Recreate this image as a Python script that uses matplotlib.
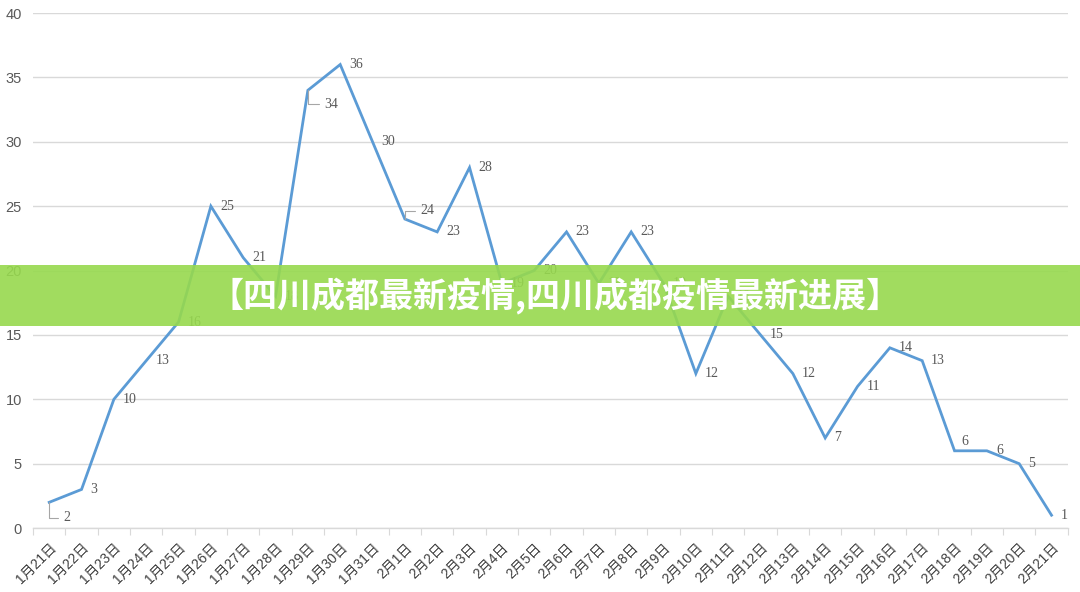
import matplotlib
matplotlib.use('Agg')
import matplotlib.pyplot as plt
from matplotlib.patches import Rectangle
import numpy as np

plt.rcParams['font.family'] = ['Liberation Sans', 'Noto Sans CJK SC', 'DejaVu Sans']

# data
dates = ['1月21日', '1月22日', '1月23日', '1月24日', '1月25日', '1月26日', '1月27日', '1月28日',
         '1月29日', '1月30日', '1月31日', '2月1日', '2月2日', '2月3日', '2月4日', '2月5日',
         '2月6日', '2月7日', '2月8日', '2月9日', '2月10日', '2月11日', '2月12日', '2月13日',
         '2月14日', '2月15日', '2月16日', '2月17日', '2月18日', '2月19日', '2月20日', '2月21日']
cases = [2, 3, 10, 13, 16, 25, 21, 18, 34, 36, 30, 24, 23, 28, 19, 20,
         23, 19, 23, 19, 12, 18, 15, 12, 7, 11, 14, 13, 6, 6, 5, 1]
banner_text = '【四川成都最新疫情,四川成都疫情最新进展】'

LINE = '#5B9BD5'
GRID = '#D9D9D9'
TXT = '#595959'

fig = plt.figure(figsize=(10.8, 5.92), dpi=100)
ax = fig.add_axes([0.0306, 0.108, 0.958, 0.870])

x = np.arange(len(dates))
ax.plot(x, cases, color=LINE, lw=2.0, solid_joinstyle='miter', zorder=3)

ax.set_xlim(-0.5, len(dates) - 0.5)
ax.set_ylim(0, 40)
ax.set_yticks(range(0, 41, 5))
ax.yaxis.grid(True, color=GRID, lw=1.0)
ax.set_axisbelow(True)
for s in ['left', 'right', 'top']:
    ax.spines[s].set_visible(False)
ax.spines['bottom'].set_color(GRID)
ax.spines['bottom'].set_linewidth(1.0)
ax.tick_params(axis='y', length=0, labelsize=10.5, labelcolor=TXT, pad=8)

# ticks between categories, labels at centres
ax.set_xticks(np.arange(-0.5, len(dates), 1.0))
ax.set_xticklabels([])
ax.tick_params(axis='x', which='major', length=5, color=GRID, direction='out')
ax.set_xticks(x, minor=True)
ax.set_xticklabels(dates, minor=True, rotation=45, ha='right', va='top',
                   rotation_mode='anchor', fontsize=10, color='#404040')
ax.tick_params(axis='x', which='minor', length=0, pad=9)

# data labels
special = {0: (10, -11), 8: (12, -10), 11: (11, 6), 28: (5, 7)}
for i, v in enumerate(cases):
    if i in special:
        dx, dy = special[i]
        ax.annotate(str(v), (i, v), xytext=(dx, dy), textcoords='offset points',
                    fontsize=10, color=TXT, family='Liberation Serif',
                    ha='left', va='center',
                    arrowprops=dict(arrowstyle='-', color='#A6A6A6', lw=0.8,
                                    shrinkA=2, shrinkB=0,
                                    connectionstyle='angle,angleA=0,angleB=90,rad=0')
                    if i != 28 else None)
    else:
        ax.annotate(str(v), (i, v), xytext=(6.5, 0), textcoords='offset points',
                    fontsize=10, color=TXT, family='Liberation Serif',
                    ha='left', va='center')

# green banner over the chart
fig.patches.append(Rectangle((0, 0.449), 1, 0.103, transform=fig.transFigure,
                             facecolor='#97D94E', alpha=0.9, edgecolor='none', zorder=10))
fig.text(0.514, 0.5, banner_text, ha='center', va='center', color='white',
         fontsize=24.5, fontweight='bold', family=['Noto Sans CJK SC', 'DejaVu Sans'], zorder=11)

fig.savefig('out.png', dpi=100)
